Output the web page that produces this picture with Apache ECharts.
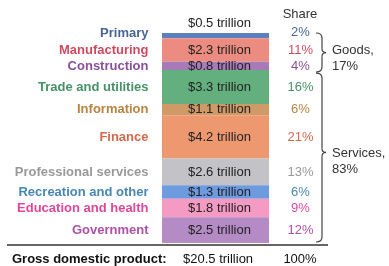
<!DOCTYPE html>
<html>
<head>
<meta charset="utf-8">
<script src="https://cdn.jsdelivr.net/npm/echarts@6/dist/echarts.min.js"></script>
<style>
  html, body { margin: 0; padding: 0; background: #fff; }
  #main { width: 389px; height: 266px; }
</style>
</head>
<body>
<div id="main"></div>
<script>
// 产业数据（万亿美元）
const sectors = ["Primary", "Manufacturing", "Construction", "Trade and utilities", "Information",
  "Finance", "Professional services", "Recreation and other", "Education and health", "Government"];
const values = [0.5, 2.3, 0.8, 3.3, 1.1, 4.2, 2.6, 1.3, 1.8, 2.5];
const shares = [2, 11, 4, 16, 6, 21, 13, 6, 9, 12];
const groups = [
  { name: "Goods,", share: "17%", from: 0, to: 3 },
  { name: "Services,", share: "83%", from: 3, to: 10 },
];
const total = { label: "Gross domestic product:", value: 20.5, share: 100 };

const barColors = ["#5e7fbf", "#ec8c80", "#a77bb8", "#63b07e", "#cf9a66",
  "#ee9870", "#c3c3c7", "#6e9ae0", "#f59bc3", "#b58bc6"];
const textColors = ["#173f78", "#c41a34", "#6a2280", "#15773e", "#a66410",
  "#c8441e", "#808080", "#17689f", "#d8167f", "#98268f"];

const font = "Liberation Sans, Arial, sans-serif";
const sum = values.reduce((a, b) => a + b, 0);

// 累计位置（用于标签）
const starts = [];
values.reduce((acc, v, i) => { starts[i] = acc; return acc + v; }, 0);
const mids = values.map((v, i) => starts[i] + v / 2);

const chart = echarts.init(document.getElementById("main"));

const barSeries = values.map((v, i) => ({
  name: sectors[i],
  type: "bar",
  stack: "gdp",
  barWidth: "100%",
  data: [v],
  itemStyle: { color: barColors[i] },
  label: {
    show: true,
    formatter: "$" + v.toFixed(1) + " trillion",
    position: i === 0 ? [26, -10] : "insideLeft",
    distance: 26,
    verticalAlign: "middle",
    color: "#222",
    fontSize: 13,
    fontFamily: font,
  },
  silent: true,
}));

chart.setOption({
  animation: false,
  grid: { left: 162, top: 33, width: 107, height: 210 },
  xAxis: { type: "category", data: ["GDP"], show: false, boundaryGap: true },
  yAxis: { type: "value", inverse: true, min: 0, max: sum, show: false },
  series: [
    ...barSeries,
    {
      // 行业名称
      type: "scatter",
      symbolSize: 0,
      clip: false,
      itemStyle: { color: "transparent" },
      silent: true,
      data: mids.map((m, i) => ({
        value: [0, m - (i === 0 ? 0.2 : 0)],
        label: { color: textColors[i] },
      })),
      label: {
        show: true,
        position: "left",
        distance: 67,
        formatter: (p) => sectors[p.dataIndex],
        fontSize: 13,
        fontWeight: "bold",
        fontFamily: font,
      },
    },
    {
      // 占比
      type: "scatter",
      symbolSize: 0,
      clip: false,
      itemStyle: { color: "transparent" },
      silent: true,
      data: mids.map((m, i) => ({
        value: [0, m - (i === 0 ? 0.3 : 0)],
        label: { color: textColors[i] },
      })),
      label: {
        show: true,
        position: "inside",
        offset: [85, 0],
        formatter: (p) => shares[p.dataIndex] + "%",
        fontSize: 13,
        fontFamily: font,
      },
    },
  ],
});

// 大括号与合计
const yOf = (v) => chart.convertToPixel({ yAxisIndex: 0 }, v);
const bx = 322;
const braceStyle = { fill: null, stroke: "#444", lineWidth: 1.2 };
const graphics = [];
const curve = (x1, y1, cx, cy, x2, y2) => ({
  type: "bezierCurve",
  shape: { x1, y1, cpx1: cx, cpy1: cy, x2, y2 },
  style: braceStyle,
});
const seg = (x1, y1, x2, y2) => ({ type: "line", shape: { x1, y1, x2, y2 }, style: braceStyle });
groups.forEach((g, gi) => {
  const y0 = yOf(starts[g.from]) + (gi === 0 ? 0 : 3);
  const y1 = (g.to < values.length ? yOf(starts[g.to]) : yOf(sum)) + (gi === 0 ? 2 : -1);
  const ym = gi === 0 ? (y0 + y1) / 2 : y0 + (y1 - y0) * 0.47;
  graphics.push(
    curve(bx - 6, y0, bx, y0, bx, y0 + 5),
    seg(bx, y0 + 5, bx, ym - 4),
    curve(bx, ym - 4, bx, ym, bx + 4, ym),
    curve(bx + 4, ym, bx, ym, bx, ym + 4),
    seg(bx, ym + 4, bx, y1 - 5),
    curve(bx, y1 - 5, bx, y1, bx - 6, y1)
  );
  graphics.push({
    type: "text",
    x: 332,
    y: ym - (gi === 0 ? 10 : 7),
    style: {
      text: g.name + "\n" + g.share,
      font: "13px " + font,
      fill: "#333",
      lineHeight: 16,
      verticalAlign: "top",
    },
  });
});

const baseY = yOf(sum) + 2;
graphics.push(
  {
    type: "line",
    shape: { x1: 7, y1: baseY, x2: 328, y2: baseY },
    style: { stroke: "#333", lineWidth: 1.5 },
  },
  {
    type: "text",
    x: 12, y: 259,
    style: { text: total.label, font: "bold 13px " + font, fill: "#111", verticalAlign: "middle" },
  },
  {
    type: "text",
    x: 183, y: 259,
    style: { text: "$" + total.value.toFixed(1) + " trillion", font: "13px " + font, fill: "#111", verticalAlign: "middle" },
  },
  {
    type: "text",
    x: 300, y: 259,
    style: { text: total.share + "%", font: "13px " + font, fill: "#111", align: "center", verticalAlign: "middle" },
  },
  {
    type: "text",
    x: 300, y: 14,
    style: { text: "Share", font: "13px " + font, fill: "#333", align: "center", verticalAlign: "middle" },
  }
);
chart.setOption({ graphic: graphics });
</script>
</body>
</html>
